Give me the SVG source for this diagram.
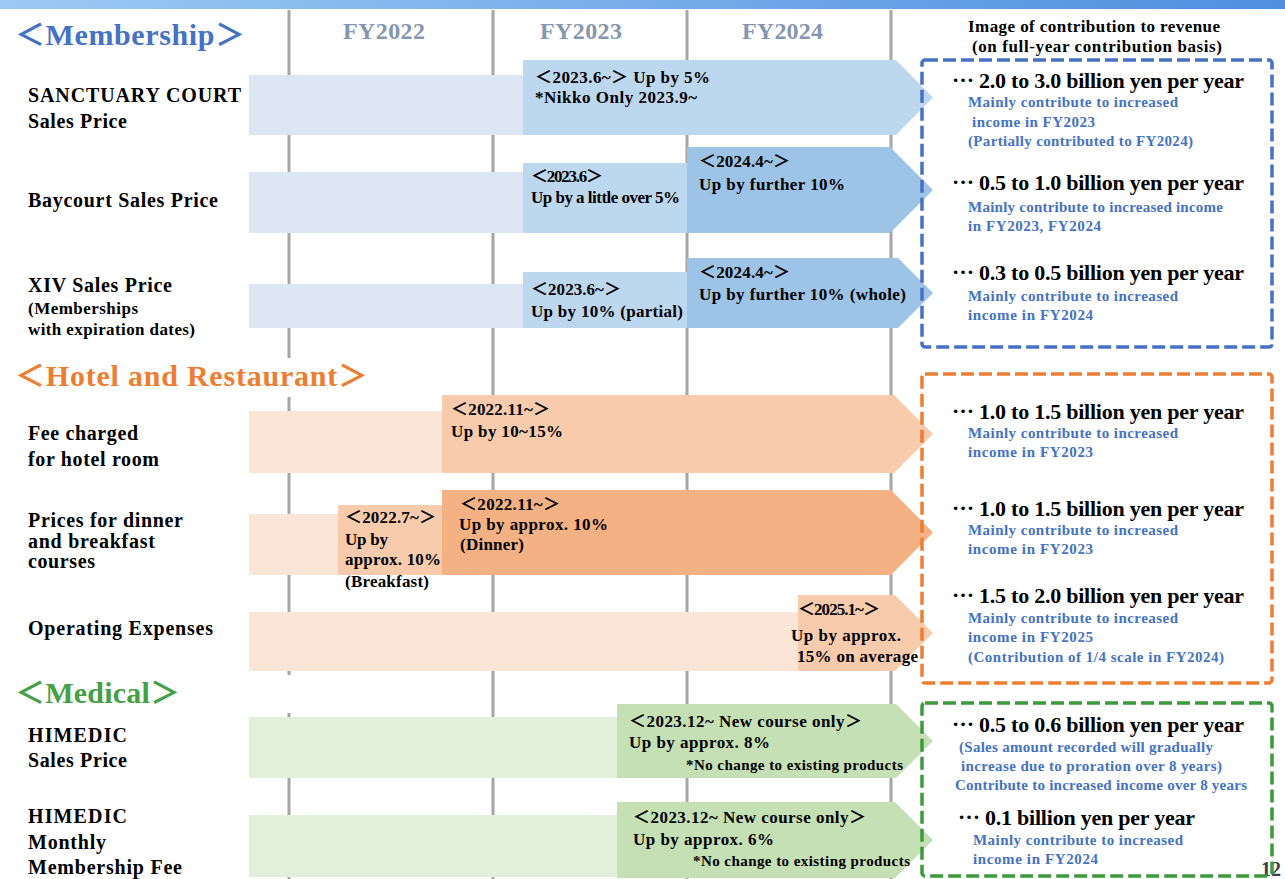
<svg xmlns="http://www.w3.org/2000/svg" width="1285" height="879" viewBox="0 0 1285 879">
<defs>
<linearGradient id="topbar" x1="0" y1="0" x2="1" y2="0">
<stop offset="0" stop-color="#9ccaf4"/>
<stop offset="1" stop-color="#4f8fe0"/>
</linearGradient>
<style>
text{font-family:"Liberation Serif","Noto Sans CJK JP",serif;font-weight:bold;}
.head{font-size:30px;}
.fy{font-size:24px;fill:#8497b0;}
.lbl{font-size:20px;fill:#000;}
.lbs{font-size:17px;fill:#000;}
.bt{font-size:17px;fill:#000;}
.bs{font-size:15px;fill:#000;}
.big{font-size:22px;fill:#000;}
.sub{font-size:15px;fill:#4472c4;}
.hdr{font-size:17px;fill:#000;}
.grid line{stroke:#a6a6a6;stroke-width:3;}
.box{fill:none;stroke-width:3.5;stroke-dasharray:13 5;}
.b1{fill:#dce7f3;}.b2{fill:#bdd7ee;}.b3{fill:#9dc3e6;}
.o1{fill:#fbe5d6;}.o2{fill:#f8cbad;}.o3{fill:#f4b183;}
.g1{fill:#e2efda;}.g2{fill:#c5e0b4;}
</style>
</defs>
<rect width="1285" height="879" fill="#fff"/>
<rect x="0" y="0" width="1285" height="9" fill="url(#topbar)"/>

<g id="grid" class="grid">
<line x1="289" y1="10" x2="289" y2="879"/>
<line x1="493" y1="10" x2="493" y2="879"/>
<line x1="687" y1="10" x2="687" y2="879"/>
<line x1="891" y1="10" x2="891" y2="879"/>
</g>

<g id="header">
<text class="head" x="15" y="45" fill="#4472c4" textLength="230">＜Membership＞</text>
<text class="fy" x="343" y="39" textLength="82">FY2022</text>
<text class="fy" x="540" y="39" textLength="82">FY2023</text>
<text class="fy" x="742" y="39" textLength="81">FY2024</text>
<text class="hdr" x="968" y="32" textLength="252">Image of contribution to revenue</text>
<text class="hdr" x="972" y="52" textLength="250">(on full-year contribution basis)</text>
</g>

<g id="row-sanctuary">
<rect class="b1" x="249" y="75" width="274" height="60"/>
<path class="b2" d="M523,60 H896 L933,97.5 L896,135 H523 Z"/>
<text class="lbl" x="28" y="102" textLength="213">SANCTUARY COURT</text>
<text class="lbl" x="28" y="128" textLength="99">Sales Price</text>
<text class="bt" x="535" y="83" textLength="175">＜2023.6~＞ Up by 5%</text>
<text class="bt" x="535" y="103" textLength="162">*Nikko Only 2023.9~</text>
</g>

<g id="row-baycourt">
<rect class="b1" x="249" y="172" width="274" height="61"/>
<rect class="b2" x="523" y="163" width="164" height="70"/>
<path class="b3" d="M687,147 H890 L933,190 L890,233 H687 Z"/>
<text class="lbl" x="28" y="207" textLength="190">Baycourt Sales Price</text>
<text class="bt" x="531" y="182" textLength="72" font-size="15">＜2023.6＞</text>
<text class="bt" x="531" y="203" textLength="149" font-size="16">Up by a little over 5%</text>
<text class="bt" x="699" y="167" textLength="91">＜2024.4~＞</text>
<text class="bt" x="699" y="190" textLength="146">Up by further 10%</text>
</g>

<g id="row-xiv">
<rect class="b1" x="249" y="284" width="274" height="44"/>
<rect class="b2" x="523" y="272" width="164" height="56"/>
<path class="b3" d="M687,258 H898 L933,293 L898,328 H687 Z"/>
<text class="lbl" x="28" y="292" textLength="144">XIV Sales Price</text>
<text class="lbs" x="28" y="314" textLength="110">(Memberships</text>
<text class="lbs" x="28" y="335" textLength="167">with expiration dates)</text>
<text class="bt" x="531" y="295" textLength="90">＜2023.6~＞</text>
<text class="bt" x="531" y="317" textLength="152">Up by 10% (partial)</text>
<text class="bt" x="699" y="278" textLength="91">＜2024.4~＞</text>
<text class="bt" x="699" y="300" textLength="207">Up by further 10% (whole)</text>
</g>

<g id="membership-result">
<text class="big" x="952" y="88" textLength="292"><tspan dy="-6">…</tspan><tspan dy="6"> 2.0 to 3.0 billion yen per year</tspan></text>
<text class="sub" x="968" y="107" textLength="210">Mainly contribute to increased</text>
<text class="sub" x="972" y="127" textLength="123">income in FY2023</text>
<text class="sub" x="968" y="146" textLength="225">(Partially contributed to FY2024)</text>
<text class="big" x="952" y="190" textLength="292"><tspan dy="-6">…</tspan><tspan dy="6"> 0.5 to 1.0 billion yen per year</tspan></text>
<text class="sub" x="968" y="212" textLength="255">Mainly contribute to increased income</text>
<text class="sub" x="968" y="231" textLength="133">in FY2023, FY2024</text>
<text class="big" x="952" y="280" textLength="292"><tspan dy="-6">…</tspan><tspan dy="6"> 0.3 to 0.5 billion yen per year</tspan></text>
<text class="sub" x="968" y="301" textLength="210">Mainly contribute to increased</text>
<text class="sub" x="968" y="320" textLength="125">income in FY2024</text>
<rect class="box" x="922" y="60" width="350" height="287" rx="3" stroke="#4472c4"/>
</g>

<g id="hotel-heading">
<rect x="10" y="358" width="370" height="39" fill="#fff"/>
<text class="head" x="15" y="386" fill="#ed7d31" textLength="353">＜Hotel and Restaurant＞</text>
</g>

<g id="row-hotel-room">
<rect class="o1" x="249" y="411" width="193" height="62"/>
<path class="o2" d="M442,395 H894 L933,434 L894,473 H442 Z"/>
<text class="lbl" x="28" y="440" textLength="110">Fee charged</text>
<text class="lbl" x="28" y="466" textLength="131">for hotel room</text>
<text class="bt" x="451" y="415" textLength="99">＜2022.11~＞</text>
<text class="bt" x="451" y="437" textLength="112">Up by 10~15%</text>
</g>

<g id="row-dinner">
<rect class="o1" x="249" y="514" width="89" height="61"/>
<rect class="o2" x="338" y="505" width="104" height="70"/>
<path class="o3" d="M442,490 H891 L933,532.5 L891,575 H442 Z"/>
<text class="lbl" x="28" y="527" textLength="155">Prices for dinner</text>
<text class="lbl" x="28" y="548" textLength="127">and breakfast</text>
<text class="lbl" x="28" y="568" textLength="67">courses</text>
<text class="bt" x="345" y="523" textLength="91">＜2022.7~＞</text>
<text class="bt" x="345" y="545" textLength="43">Up by</text>
<text class="bt" x="345" y="565" textLength="96">approx. 10%</text>
<text class="bt" x="345" y="587" textLength="84">(Breakfast)</text>
<text class="bt" x="460" y="510" textLength="100">＜2022.11~＞</text>
<text class="bt" x="459" y="530" textLength="149">Up by approx. 10%</text>
<text class="bt" x="460" y="550" textLength="64">(Dinner)</text>
</g>

<g id="row-operating">
<rect class="o1" x="249" y="612" width="549" height="59"/>
<path class="o2" d="M798,595 H895 L933,633 L895,671 H798 Z"/>
<text class="lbl" x="28" y="635" textLength="185">Operating Expenses</text>
<text class="bt" x="798" y="615" textLength="82" font-size="15">＜2025.1~＞</text>
<text class="bt" x="791" y="641" textLength="110">Up by approx.</text>
<text class="bt" x="797" y="662" textLength="121">15% on average</text>
</g>

<g id="hotel-result">
<text class="big" x="952" y="419" textLength="292"><tspan dy="-6">…</tspan><tspan dy="6"> 1.0 to 1.5 billion yen per year</tspan></text>
<text class="sub" x="968" y="438" textLength="210">Mainly contribute to increased</text>
<text class="sub" x="968" y="457" textLength="125">income in FY2023</text>
<text class="big" x="952" y="516" textLength="292"><tspan dy="-6">…</tspan><tspan dy="6"> 1.0 to 1.5 billion yen per year</tspan></text>
<text class="sub" x="968" y="535" textLength="210">Mainly contribute to increased</text>
<text class="sub" x="968" y="554" textLength="125">income in FY2023</text>
<text class="big" x="952" y="603" textLength="292"><tspan dy="-6">…</tspan><tspan dy="6"> 1.5 to 2.0 billion yen per year</tspan></text>
<text class="sub" x="968" y="623" textLength="210">Mainly contribute to increased</text>
<text class="sub" x="968" y="642" textLength="125">income in FY2025</text>
<text class="sub" x="968" y="662" textLength="256">(Contribution of 1/4 scale in FY2024)</text>
<rect class="box" x="922" y="374" width="350" height="309" rx="3" stroke="#ed7d31"/>
</g>

<g id="medical-heading">
<rect x="10" y="675" width="286" height="38" fill="#fff"/>
<text class="head" x="15" y="703" fill="#46a046" textLength="165">＜Medical＞</text>
</g>

<g id="row-himedic-sales">
<rect class="g1" x="249" y="717" width="368" height="61"/>
<path class="g2" d="M617,704 H896 L933,741 L896,778 H617 Z"/>
<text class="lbl" x="28" y="742" textLength="99">HIMEDIC</text>
<text class="lbl" x="28" y="767" textLength="99">Sales Price</text>
<text class="bt" x="629" y="727" textLength="233">＜2023.12~ New course only＞</text>
<text class="bt" x="629" y="748" textLength="141">Up by approx. 8%</text>
<text class="bs" x="686" y="770" textLength="217">*No change to existing products</text>
</g>

<g id="row-himedic-monthly">
<rect class="g1" x="249" y="815" width="368" height="62"/>
<path class="g2" d="M617,802 H895 L933,840 L895,878 H617 Z"/>
<text class="lbl" x="28" y="823" textLength="99">HIMEDIC</text>
<text class="lbl" x="28" y="849" textLength="78">Monthly</text>
<text class="lbl" x="28" y="874" textLength="154">Membership Fee</text>
<text class="bt" x="633" y="823" textLength="233">＜2023.12~ New course only＞</text>
<text class="bt" x="633" y="845" textLength="141">Up by approx. 6%</text>
<text class="bs" x="693" y="866" textLength="217">*No change to existing products</text>
</g>

<g id="page-number">
<text x="1261" y="876" font-size="20" font-weight="normal" fill="#404040">12</text>
</g>

<g id="medical-result">
<text class="big" x="952" y="732" textLength="292"><tspan dy="-6">…</tspan><tspan dy="6"> 0.5 to 0.6 billion yen per year</tspan></text>
<text class="sub" x="959" y="752" textLength="254">(Sales amount recorded will gradually</text>
<text class="sub" x="961" y="771" textLength="261">increase due to proration over 8 years)</text>
<text class="sub" x="955" y="790" textLength="292">Contribute to increased income over 8 years</text>
<text class="big" x="958" y="825" textLength="237"><tspan dy="-6">…</tspan><tspan dy="6"> 0.1 billion yen per year</tspan></text>
<text class="sub" x="973" y="845" textLength="210">Mainly contribute to increased</text>
<text class="sub" x="973" y="864" textLength="125">income in FY2024</text>
<rect class="box" x="922" y="703" width="350" height="173" rx="3" stroke="#3c9a3c"/>
</g>
</svg>
